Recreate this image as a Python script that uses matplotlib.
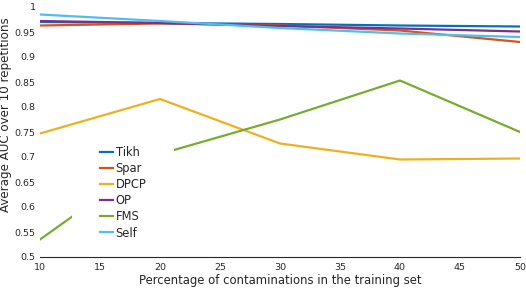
import matplotlib
matplotlib.use('Agg')
import matplotlib.pyplot as plt
from matplotlib.patches import Rectangle
from matplotlib.ticker import FixedLocator

# contamination percentage
pct = [10, 20, 30, 40, 50]

tikh = [0.970, 0.968, 0.966, 0.963, 0.961]
spar = [0.963, 0.967, 0.963, 0.953, 0.930]
dpcp = [0.747, 0.816, 0.727, 0.695, 0.697]
op = [0.972, 0.968, 0.962, 0.957, 0.951]
fms = [0.535, 0.706, 0.775, 0.853, 0.750]
self_ = [0.985, 0.972, 0.958, 0.947, 0.940]

names = ['Tikh', 'Spar', 'DPCP', 'OP', 'FMS', 'Self']
colors = ['#0072BD', '#D95319', '#EDB120', '#7E2F8E', '#77AC30', '#4DBEEE']

xticks = [10, 15, 20, 25, 30, 35, 40, 45, 50]
yticks = [0.5, 0.55, 0.6, 0.65, 0.7, 0.75, 0.8, 0.85, 0.9, 0.95, 1]
ytick_labels = ['0.5', '0.55', '0.6', '0.65', '0.7', '0.75', '0.8', '0.85', '0.9', '0.95', '1']
# tick marks that actually show up in the original
xmarks = [35, 40, 45]
ymarks = [0.55, 0.7, 0.75, 0.9]

txt = '#262626'

fig = plt.figure(figsize=(5.26, 2.88), dpi=100)
ax = fig.add_axes([40/526, 31/288, 480/526, 250/288])

for ys, name, c in zip([tikh, spar, dpcp, op, fms, self_], names, colors):
    ax.plot(pct, ys, color=c, lw=1.6, label=name, zorder=2)

ax.set_xlim(10, 50)
ax.set_ylim(0.5, 1)
ax.set_xticks(xticks)
ax.set_yticks(yticks)
ax.set_yticklabels(ytick_labels)
ax.xaxis.set_minor_locator(FixedLocator(xmarks))
ax.yaxis.set_minor_locator(FixedLocator(ymarks))
ax.tick_params(which='major', length=0, labelsize=6.8, colors=txt)
ax.tick_params(axis='y', which='major', pad=3)
ax.tick_params(axis='x', which='major', pad=4)
ax.tick_params(which='minor', direction='in', length=3.5, width=0.8, color=txt,
               top=True, right=True, bottom=True, left=True)

for s in ['left', 'top', 'right']:
    ax.spines[s].set_visible(False)
ax.spines['bottom'].set_linewidth(0.8)
ax.spines['bottom'].set_color(txt)

ax.set_xlabel('Percentage of contaminations in the training set', fontsize=8.4, color=txt, labelpad=1.5)
ax.set_ylabel('Average AUC over 10 repetitions', fontsize=8.6, color=txt, labelpad=2)
ax.yaxis.set_label_coords(-0.058, 0.57)

# white box behind the legend
ax.add_patch(Rectangle((0.067, 0.04), 0.212, 0.436, transform=ax.transAxes,
                       facecolor='white', edgecolor='none', zorder=3))
leg = ax.legend(loc='center left', bbox_to_anchor=(0.125, 0.257), frameon=False,
                fontsize=8.3, handlelength=1.15, handletextpad=0.2, labelspacing=0.27,
                borderpad=0, borderaxespad=0)
leg.set_zorder(4)
for t in leg.get_texts():
    t.set_color(txt)

fig.savefig('out.png', dpi=100)
